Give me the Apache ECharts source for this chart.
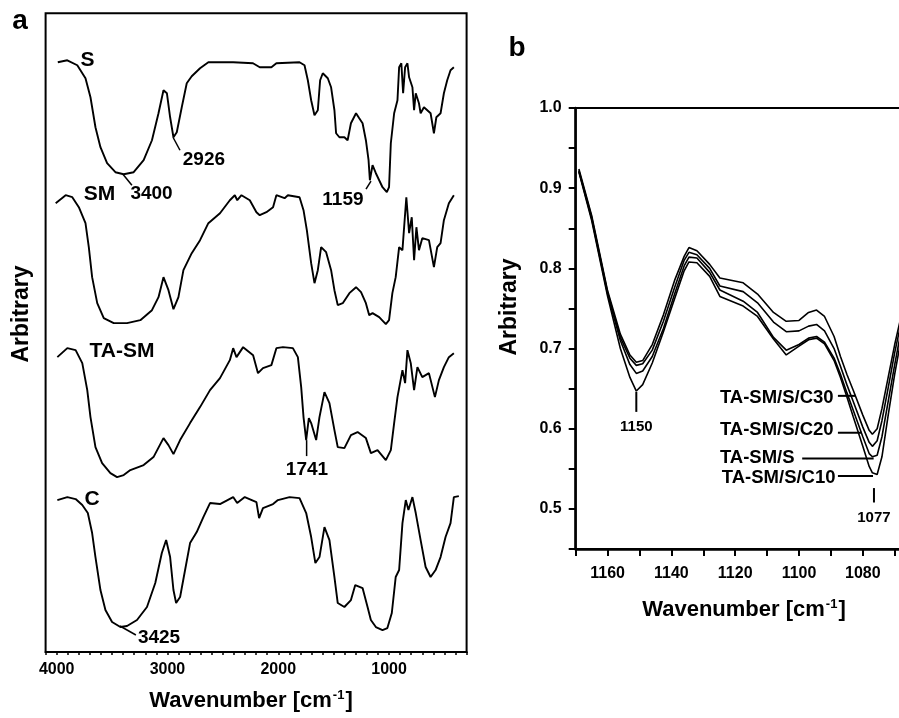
<!DOCTYPE html>
<html><head><meta charset="utf-8">
<script src="https://cdn.jsdelivr.net/npm/echarts@6/dist/echarts.min.js"></script>
<style>html,body{margin:0;padding:0;background:#fff}#c{width:899px;height:718px}</style>
</head><body><div id="c"></div>
<script>
// ---------- Panel a : FTIR spectra (arbitrary units, stacked) ----------
const sWn  = [3990,3904,3814,3740,3695,3650,3605,3545,3470,3395,3305,3215,3140,3081,3036,3005,2976,2946,2916,2871,2826,2781,2706,2631,2407,2228,2167,2062,2017,1808,1763,1733,1703,1673,1643,1622,1598,1553,1523,1493,1478,1448,1403,1374,1344,1298,1269,1239,1209,1185,1173,1149,1119,1089,1059,1020,1000,984,954,924,909,889,873,855,834,819,789,774,759,730,715,685,625,595,573,535,505,475,445,415];
const sVal = [590,592,587,574,555,525,505,489,480,478,480,492,512,539,562,559,535,515,520,545,569,576,584,590,590,589,585,585,589,590,587,572,552,537,542,572,579,574,565,542,519,515,515,512,529,539,534,529,512,492,472,487,479,472,465,460,465,509,539,552,585,589,559,585,589,575,565,542,559,549,539,545,539,519,535,539,559,572,582,585];

const smWn  = [4009,3919,3859,3800,3740,3710,3680,3634,3575,3485,3365,3245,3140,3081,3036,2991,2946,2901,2856,2781,2706,2631,2526,2437,2392,2370,2332,2257,2197,2167,2107,2047,2017,1943,1913,1808,1772,1742,1703,1673,1643,1613,1568,1523,1493,1463,1418,1358,1298,1253,1209,1179,1149,1089,1029,1000,970,940,909,879,864,844,819,795,774,753,730,700,640,595,565,535,505,460,415];
const smVal = [449,457,455,445,429,405,375,349,334,329,329,332,342,355,375,362,343,355,382,399,412,429,439,452,457,452,457,452,440,437,440,445,457,454,457,455,442,422,389,369,382,405,400,382,362,347,349,359,365,360,349,337,339,335,328,332,359,375,405,402,425,455,419,435,392,425,402,414,412,385,405,409,432,449,457];

const tasmWn  = [3994,3904,3829,3769,3724,3695,3650,3590,3515,3455,3395,3335,3215,3126,3036,2991,2946,2886,2796,2706,2616,2526,2437,2407,2377,2317,2227,2183,2138,2062,2017,1958,1868,1823,1793,1772,1748,1724,1703,1658,1628,1583,1538,1493,1463,1403,1344,1284,1209,1164,1104,1029,984,954,924,879,855,834,804,774,744,700,640,586,550,505,460,415];
const tasmVal = [295,304,302,289,262,235,205,189,179,175,177,182,187,195,214,207,198,212,229,245,262,274,292,304,295,305,297,279,284,287,304,305,304,295,265,235,212,234,229,212,235,260,249,222,205,204,217,220,214,199,202,192,202,229,255,282,269,302,289,262,285,275,279,255,272,285,295,299];

const cWn  = [3994,3904,3829,3769,3719,3680,3650,3605,3560,3500,3425,3365,3275,3185,3110,3051,3012,2976,2946,2922,2886,2841,2796,2736,2676,2616,2526,2407,2371,2302,2197,2173,2138,2047,2003,1898,1808,1748,1703,1665,1628,1583,1538,1493,1463,1403,1344,1305,1239,1194,1164,1119,1059,1015,975,940,909,879,849,825,789,759,715,670,625,580,535,490,445,415,370];
const cVal = [152,155,153,147,139,119,95,62,42,30,25,26,32,45,69,99,112,95,62,49,55,82,109,120,135,149,148,155,149,155,150,134,144,148,152,155,154,139,115,89,95,125,112,75,49,45,52,67,64,45,32,25,22,24,39,75,82,129,152,142,155,139,112,85,75,82,95,115,129,155,156];

const aTickLabels = [1000, 2000, 3000, 4000];
// curve names and peak annotations in panel a: [text, wavenumber, value]
const aNames  = [['S',3722,592],['SM',3614,458],['TA-SM',3411,301],['C',3681,153]];
const aPeaks  = [['3400',3144,458],['2926',2671,492],['1159',1416,452],['1741',1741,182],['3425',3076,14]];
// leader lines [wn1, v1, wn2, v2]
const aLeaders = [[3402,478,3321,467],[2950,515,2887,502],[1208,463,1163,471],[1744,212,1744,196],[3429,26,3285,17]];

// ---------- Panel b : zoom 1170-1060 cm-1 ----------
const bWn = [1169,1165,1160,1156,1153,1151,1149,1146,1142.5,1139,1136,1134.5,1132,1128,1124.8,1117.5,1113,1108,1104,1100,1097,1094.5,1092,1089,1087,1085,1083,1080,1078,1077,1075.5,1074,1072,1070,1068,1066];
const bC30 = [0.924,0.866,0.772,0.718,0.692,0.683,0.685,0.705,0.742,0.785,0.815,0.826,0.822,0.805,0.788,0.782,0.768,0.745,0.734,0.735,0.745,0.748,0.740,0.715,0.690,0.668,0.648,0.617,0.598,0.593,0.600,0.625,0.665,0.705,0.740,0.770];
const bC20 = [0.922,0.864,0.770,0.714,0.688,0.679,0.681,0.698,0.734,0.776,0.810,0.820,0.817,0.800,0.778,0.771,0.757,0.733,0.721,0.722,0.728,0.730,0.722,0.700,0.678,0.655,0.634,0.602,0.583,0.578,0.585,0.610,0.652,0.695,0.732,0.765];
const bS   = [0.921,0.862,0.768,0.710,0.680,0.669,0.672,0.690,0.725,0.768,0.803,0.814,0.813,0.795,0.773,0.759,0.745,0.714,0.698,0.705,0.713,0.715,0.708,0.688,0.668,0.645,0.623,0.590,0.569,0.565,0.567,0.590,0.635,0.680,0.722,0.755];
const bC10 = [0.920,0.860,0.765,0.700,0.664,0.647,0.655,0.682,0.721,0.762,0.797,0.808,0.807,0.790,0.765,0.753,0.740,0.712,0.692,0.703,0.711,0.713,0.706,0.685,0.664,0.640,0.615,0.578,0.553,0.545,0.543,0.565,0.618,0.668,0.712,0.748];
const bNames = ['TA-SM/S/C30','TA-SM/S/C20','TA-SM/S','TA-SM/S/C10'];
// legend labels in panel b: [text, wn (left edge), value]
const bLabels = [['TA-SM/S/C30',1124.8,0.638],['TA-SM/S/C20',1124.8,0.598],['TA-SM/S',1124.8,0.564],['TA-SM/S/C10',1124.2,0.539]];
const bLeaders = [[1087.8,0.641,1082.2,0.641],[1087.8,0.595,1080.3,0.595],[1099,0.563,1076.6,0.563],[1087.8,0.541,1076.8,0.541],[1151,0.646,1151,0.621],[1076.5,0.526,1076.5,0.508]];
const bPeaks = [['1150',1151,0.602],['1077',1076.5,0.489]];

const FONT = "'Liberation Sans',Arial,sans-serif";
const zip = (xs, ys) => xs.map((x, i) => [x, ys[i]]);
const lineSeries = (name, data, gi) => ({
  name, type: 'line', xAxisIndex: gi, yAxisIndex: gi, data,
  showSymbol: false, symbol: 'none', smooth: false, animation: false,
  lineStyle: { color: '#000', width: gi === 0 ? 1.9 : 1.6 }
});

const chart = echarts.init(document.getElementById('c'), null, { renderer: 'canvas' });
const option = {
  backgroundColor: '#fff',
  animation: false,
  grid: [
    { left: 45.6, top: 13.3, width: 421, height: 638.7, show: true, borderColor: '#000', borderWidth: 2, backgroundColor: 'transparent', containLabel: false, outerBoundsMode: 'none' },
    { left: 575.7, top: 108, width: 350.9, height: 441, show: true, borderColor: '#000', borderWidth: 2, backgroundColor: 'transparent', containLabel: false, outerBoundsMode: 'none' }
  ],
  xAxis: [
    { gridIndex: 0, type: 'value', inverse: true, min: 300, max: 4100, interval: 100,
      axisLine: { show: true, lineStyle: { color: '#000', width: 2 } },
      axisTick: { show: true, length: 3, lineStyle: { color: '#000', width: 1.5 } },
      axisLabel: { margin: 10, color: '#000', fontFamily: FONT, fontWeight: 'bold', fontSize: 16,
        formatter: v => aTickLabels.includes(Math.round(v)) ? String(Math.round(v)) : '' },
      splitLine: { show: false } },
    { gridIndex: 1, type: 'value', inverse: true, min: 1060, max: 1170, interval: 10,
      axisLine: { show: true, lineStyle: { color: '#000', width: 2.5 } },
      axisTick: { show: true, length: 7, lineStyle: { color: '#000', width: 2 } },
      axisLabel: { margin: 17, color: '#000', fontFamily: FONT, fontWeight: 'bold', fontSize: 16,
        formatter: v => { const r = Math.round(v); return (r % 20 === 0 && r < 1170 && r > 1060) ? String(r) : ''; } },
      splitLine: { show: false } }
  ],
  yAxis: [
    { gridIndex: 0, type: 'value', min: 0, max: 639,
      axisLine: { show: false }, axisTick: { show: false }, axisLabel: { show: false }, splitLine: { show: false } },
    { gridIndex: 1, type: 'value', min: 0.45, max: 1.0, interval: 0.05,
      axisLine: { show: true, lineStyle: { color: '#000', width: 2.5 } },
      axisTick: { show: true, length: 7, lineStyle: { color: '#000', width: 2 } },
      axisLabel: { margin: 14, color: '#000', fontFamily: FONT, fontWeight: 'bold', fontSize: 16,
        formatter: v => { const r = Math.round(v * 100); return r % 10 === 0 ? (r / 100).toFixed(1) : ''; } },
      splitLine: { show: false } }
  ],
  series: [
    lineSeries('S', zip(sWn, sVal), 0),
    lineSeries('SM', zip(smWn, smVal), 0),
    lineSeries('TA-SM', zip(tasmWn, tasmVal), 0),
    lineSeries('C', zip(cWn, cVal), 0),
    lineSeries(bNames[0], zip(bWn, bC30), 1),
    lineSeries(bNames[1], zip(bWn, bC20), 1),
    lineSeries(bNames[2], zip(bWn, bS), 1),
    lineSeries(bNames[3], zip(bWn, bC10), 1)
  ]
};
chart.setOption(option);

const P = (gi, p) => chart.convertToPixel({ gridIndex: gi }, p);
const g = [];
const txt = (x, y, text, size, align, extra) => Object.assign({
  type: 'text', x, y, silent: true, z: 100,
  style: { text, fill: '#000', fontSize: size, fontWeight: 'bold', fontFamily: FONT, align: align || 'center', verticalAlign: 'middle' }
}, extra || {});
const seg = (a, b, w) => ({ type: 'line', silent: true, z: 100,
  shape: { x1: a[0], y1: a[1], x2: b[0], y2: b[1] }, style: { stroke: '#000', lineWidth: w || 1.5 } });

aNames.forEach(([t, w, v]) => { const p = P(0, [w, v]); g.push(txt(p[0], p[1], t, 21)); });
aPeaks.forEach(([t, w, v]) => { const p = P(0, [w, v]); g.push(txt(p[0], p[1], t, 19)); });
aLeaders.forEach(([w1, v1, w2, v2]) => g.push(seg(P(0, [w1, v1]), P(0, [w2, v2]))));
bLabels.forEach(([t, w, v]) => { const p = P(1, [w, v]); g.push(txt(p[0], p[1], t, 18.5, 'left')); });
bPeaks.forEach(([t, w, v]) => { const p = P(1, [w, v]); g.push(txt(p[0], p[1], t, 15)); });
bLeaders.forEach(([w1, v1, w2, v2]) => g.push(seg(P(1, [w1, v1]), P(1, [w2, v2]), 2)));

// panel letters and axis titles
g.push(txt(20, 21, 'a', 28));
g.push(txt(517, 48, 'b', 28));
const richTitle = { sup: { fontSize: 13, fontWeight: 'bold', fontFamily: FONT, verticalAlign: 'top', padding: [0, 1, 12, 1] } };
const title = (x, y) => ({ type: 'text', x, y, silent: true,
  style: { text: 'Wavenumber [cm{sup|-1}]', rich: richTitle, fill: '#000', fontSize: 22, fontWeight: 'bold', fontFamily: FONT, align: 'center', verticalAlign: 'middle' } });
g.push(title(251, 701));
g.push(title(744, 610));
g.push(txt(22, 314, 'Arbitrary', 23, 'center', { rotation: Math.PI / 2 }));
g.push(txt(510, 307, 'Arbitrary', 23, 'center', { rotation: Math.PI / 2 }));
chart.setOption({ graphic: g });
</script></body></html>
